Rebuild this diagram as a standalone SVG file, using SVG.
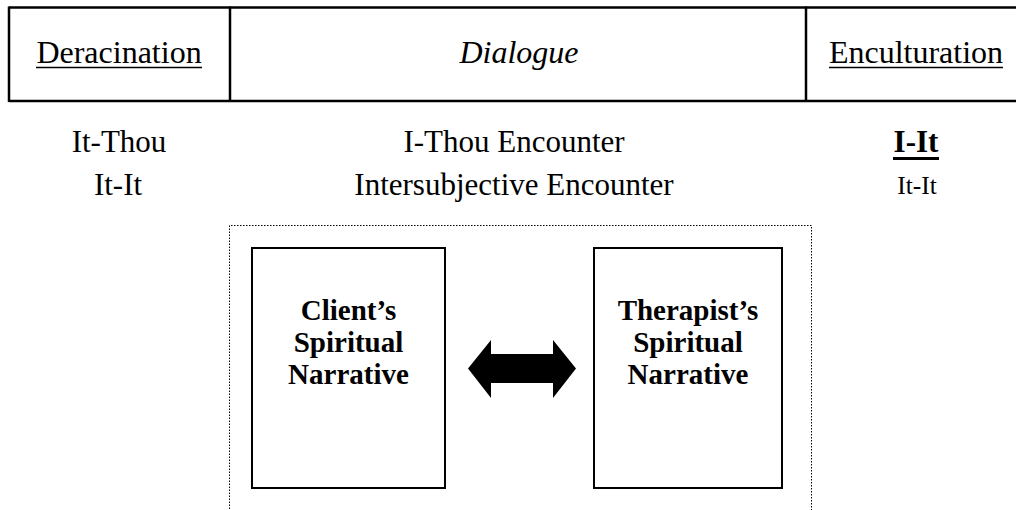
<svg xmlns="http://www.w3.org/2000/svg" width="1016" height="510" viewBox="0 0 1016 510">
<style>
.serif{font-family:"Liberation Serif","Times New Roman",serif;fill:#000}
.hdr{font-size:32px}
.row{font-size:31px}
.bold{font-weight:bold}
.box{fill:#fff;stroke:#000;stroke-width:2}
.rule{stroke:#000;stroke-width:2.5;fill:none}
.ul{stroke:#000;stroke-width:1.5}
</style>
<rect width="1016" height="510" fill="#fff"/>
<g id="header">
  <line class="rule" x1="9" y1="7.5" x2="1016" y2="7.5"/>
  <line class="rule" x1="9" y1="101" x2="1016" y2="101"/>
  <line class="rule" x1="9" y1="6.5" x2="9" y2="102"/>
  <line class="rule" x1="230" y1="6.5" x2="230" y2="102"/>
  <line class="rule" x1="806" y1="6.5" x2="806" y2="102"/>
  <text class="serif hdr" x="119" y="63" text-anchor="middle">Deracination</text>
  <line class="ul" x1="36" y1="67.5" x2="202" y2="67.5"/>
  <text class="serif hdr" x="519" y="63" text-anchor="middle" font-style="italic">Dialogue</text>
  <text class="serif hdr" x="916" y="63" text-anchor="middle">Enculturation</text>
  <line class="ul" x1="829" y1="67.5" x2="1003" y2="67.5"/>
</g>
<g id="rows">
  <text class="serif row" x="119" y="152" text-anchor="middle">It-Thou</text>
  <text class="serif row" x="118" y="195" text-anchor="middle">It-It</text>
  <text class="serif row" x="514" y="152" text-anchor="middle">I-Thou Encounter</text>
  <text class="serif row" x="514" y="195" text-anchor="middle">Intersubjective Encounter</text>
  <text class="serif row bold" x="916" y="152" text-anchor="middle">I-It</text>
  <line x1="893" y1="158.5" x2="939" y2="158.5" stroke="#000" stroke-width="3"/>
  <text class="serif" font-size="25.5" x="917" y="194" text-anchor="middle">It-It</text>
</g>
<g id="encounter-frame">
  <path d="M229.5 512 V225.5 H811.5 V512" fill="none" stroke="#000" stroke-width="1" stroke-dasharray="1.5 1.5"/>
</g>
<g id="client">
  <rect class="box" x="252" y="248" width="193" height="240"/>
  <text class="serif bold" font-size="29" x="348.5" y="320" text-anchor="middle">Client’s</text>
  <text class="serif bold" font-size="29" x="348.5" y="352" text-anchor="middle">Spiritual</text>
  <text class="serif bold" font-size="29" x="348.5" y="384" text-anchor="middle">Narrative</text>
</g>
<g id="therapist">
  <rect class="box" x="594" y="248" width="188" height="240"/>
  <text class="serif bold" font-size="29" x="688" y="320" text-anchor="middle">Therapist’s</text>
  <text class="serif bold" font-size="29" x="688" y="352" text-anchor="middle">Spiritual</text>
  <text class="serif bold" font-size="29" x="688" y="384" text-anchor="middle">Narrative</text>
</g>
<g id="connectors">
  <path d="M468 368.5 L491 340 V354 H553 V340 L576 368.5 L553 398 V383 H491 V398 Z" fill="#000"/>
</g>
</svg>
